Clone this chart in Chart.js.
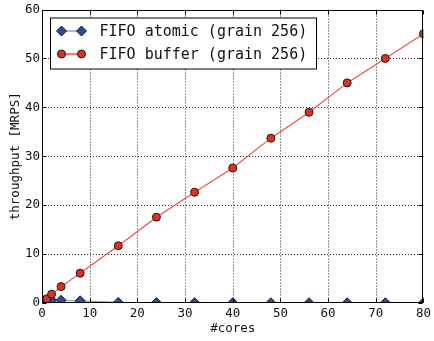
<!DOCTYPE html>
<html>
<head>
<meta charset="utf-8">
<script src="https://cdn.jsdelivr.net/npm/chart.js@4/dist/chart.umd.min.js"></script>
<style>
  html, body { margin: 0; padding: 0; background: #fff; }
  #c { display: block; }
</style>
</head>
<body>
<canvas id="c" width="434" height="341"></canvas>
<script>
// Throughput of the two FIFO variants versus core count
const cores = [1, 2, 4, 8, 16, 24, 32, 40, 48, 56, 64, 72, 80];
const fifoAtomic = [0.55, 0.6, 0.55, 0.45, 0.12, 0.08, 0.06, 0.05, 0.05, 0.05, 0.05, 0.05, 0.05];
const fifoBuffer = [0.85, 1.8, 3.35, 6.1, 11.7, 17.55, 22.65, 27.6, 33.7, 39.0, 45.0, 50.0, 55.05];
const seriesNames = ['FIFO atomic (grain 256)', 'FIFO buffer (grain 256)'];
const xTicks = [0, 10, 20, 30, 40, 50, 60, 70, 80];
const yTicks = [0, 10, 20, 30, 40, 50, 60];

const MONO = '"DejaVu Sans Mono", "Liberation Mono", monospace';
const INK = '#111';

const series = [
  { name: seriesNames[0], values: fifoAtomic, line: 'rgba(60,85,170,0.55)', fill: '#2c4c9c', style: 'rectRot', radius: 5 },
  { name: seriesNames[1], values: fifoBuffer, line: 'rgba(232,50,40,0.85)', fill: '#e0301f', style: 'circle', radius: 4 }
];

function pts(vals) { return cores.map((c, i) => ({ x: c, y: vals[i] })); }

function marker(ctx, style, x, y, r, fill) {
  ctx.save();
  ctx.beginPath();
  if (style === 'rectRot') {
    ctx.moveTo(x, y - r); ctx.lineTo(x + r, y); ctx.lineTo(x, y + r); ctx.lineTo(x - r, y); ctx.closePath();
  } else {
    ctx.arc(x, y, r, 0, Math.PI * 2);
  }
  ctx.fillStyle = fill; ctx.fill();
  ctx.lineWidth = 1; ctx.strokeStyle = '#1a1a1a'; ctx.stroke();
  ctx.restore();
}

// Dotted grid behind the data
const gridPlugin = {
  id: 'dotGrid',
  beforeDatasetsDraw(chart) {
    const { ctx, chartArea: a, scales: { x, y } } = chart;
    ctx.save();
    ctx.strokeStyle = 'rgba(0,0,0,0.85)';
    ctx.lineWidth = 1;
    ctx.setLineDash([1, 2]);
    xTicks.forEach(v => {
      if (v === x.min || v === x.max) return;
      const px = Math.round(x.getPixelForValue(v)) + 0.5;
      ctx.beginPath(); ctx.moveTo(px, a.top); ctx.lineTo(px, a.bottom); ctx.stroke();
    });
    yTicks.forEach(v => {
      if (v === y.min || v === y.max) return;
      const py = Math.round(y.getPixelForValue(v)) + 0.5;
      ctx.beginPath(); ctx.moveTo(a.left, py); ctx.lineTo(a.right, py); ctx.stroke();
    });
    ctx.restore();
  },
  // Frame on all four sides with inward tick marks
  afterDatasetsDraw(chart) {
    const { ctx, chartArea: a, scales: { x, y } } = chart;
    const L = Math.round(a.left) + 0.5, R = Math.round(a.right) - 0.5;
    const T = Math.round(a.top) + 0.5, B = Math.round(a.bottom) - 0.5;
    ctx.save();
    ctx.strokeStyle = '#000';
    ctx.lineWidth = 1;
    ctx.strokeRect(L, T, R - L, B - T);
    const tl = 4;
    xTicks.forEach(v => {
      const px = Math.round(x.getPixelForValue(v)) + 0.5;
      ctx.beginPath();
      ctx.moveTo(px, B); ctx.lineTo(px, B - tl);
      ctx.moveTo(px, T); ctx.lineTo(px, T + tl);
      ctx.stroke();
    });
    yTicks.forEach(v => {
      const py = Math.round(y.getPixelForValue(v)) + 0.5;
      ctx.beginPath();
      ctx.moveTo(L, py); ctx.lineTo(L + tl, py);
      ctx.moveTo(R, py); ctx.lineTo(R - tl, py);
      ctx.stroke();
    });
    ctx.restore();
  },
  // Boxed legend in the upper left of the plot
  afterDraw(chart) {
    const { ctx, chartArea: a } = chart;
    const bx = a.left + 8.5, by = a.top + 8.5, bw = 266, bh = 51;
    ctx.save();
    ctx.fillStyle = '#fff';
    ctx.fillRect(bx, by, bw, bh);
    ctx.strokeStyle = '#000';
    ctx.lineWidth = 1;
    ctx.strokeRect(bx, by, bw, bh);
    ctx.font = '15px ' + MONO;
    ctx.textBaseline = 'middle';
    ctx.textAlign = 'left';
    series.forEach((s, i) => {
      const cy = by + 13 + i * 23;
      ctx.strokeStyle = s.line;
      ctx.lineWidth = 1.5;
      ctx.beginPath(); ctx.moveTo(bx + 11, cy); ctx.lineTo(bx + 31, cy); ctx.stroke();
      marker(ctx, s.style, bx + 11, cy, s.radius, s.fill);
      marker(ctx, s.style, bx + 31, cy, s.radius, s.fill);
      ctx.fillStyle = INK;
      ctx.fillText(s.name, bx + 49, cy + 1);
    });
    ctx.restore();
  }
};

new Chart(document.getElementById('c'), {
  type: 'line',
  data: {
    datasets: series.map((s, i) => ({
      label: s.name,
      data: pts(s.values),
      borderColor: s.line,
      borderWidth: 1.2,
      backgroundColor: s.fill,
      pointStyle: s.style,
      pointRadius: s.radius,
      pointHoverRadius: s.radius,
      pointBackgroundColor: s.fill,
      pointBorderColor: '#1a1a1a',
      pointBorderWidth: 1,
      fill: false,
      tension: 0,
      clip: 0,
      order: 2 - i
    }))
  },
  options: {
    responsive: false,
    devicePixelRatio: 1,
    animation: false,
    events: [],
    layout: { padding: { left: 0, right: 9, top: 7, bottom: 0 } },
    plugins: { legend: { display: false }, tooltip: { enabled: false } },
    scales: {
      x: {
        type: 'linear', min: 0, max: 80,
        afterBuildTicks: s => { s.ticks = xTicks.map(v => ({ value: v })); },
        afterFit: s => { s.height = 38; },
        grid: { display: false, drawTicks: false },
        border: { display: false },
        ticks: { color: INK, padding: 3, maxRotation: 0, font: { family: MONO, size: 12.5 } },
        title: { display: true, text: '#cores', color: INK, padding: { top: 0, bottom: 4.5 }, font: { family: MONO, size: 12.5, lineHeight: 1.2 } }
      },
      y: {
        type: 'linear', min: 0, max: 60,
        afterBuildTicks: s => { s.ticks = yTicks.map(v => ({ value: v })); },
        afterFit: s => { s.width = 42; },
        grid: { display: false, drawTicks: false },
        border: { display: false },
        ticks: { color: INK, padding: 2, font: { family: MONO, size: 12.5 } },
        title: { display: true, text: 'throughput [MRPS]', color: INK, padding: { top: 8.5, bottom: 0 }, font: { family: MONO, size: 12.5, lineHeight: 1.2 } }
      }
    }
  },
  plugins: [gridPlugin]
});
</script>
</body>
</html>
